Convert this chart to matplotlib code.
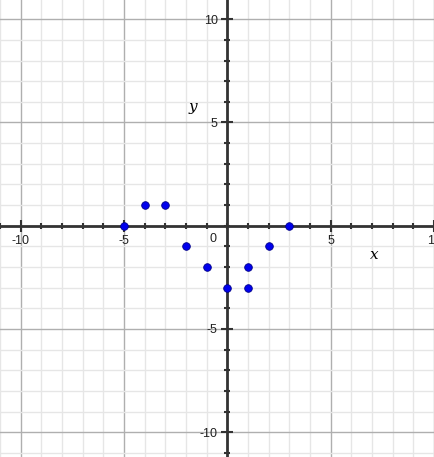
import matplotlib.pyplot as plt
from matplotlib.ticker import MultipleLocator

# points
xs = [-5, -4, -3, -2, -1, 0, 1, 1, 2, 3]
ys = [0, 1, 1, -1, -2, -3, -2, -3, -1, 0]

major_ticks = [-10, -5, 5, 10]

plt.rcParams['font.family'] = ['Liberation Sans', 'DejaVu Sans']
plt.rcParams['axes.unicode_minus'] = False

fig = plt.figure(figsize=(4.35, 4.57), dpi=100)
ax = fig.add_axes([0, 0, 1, 1])

ax.set_xlim(-11.0, 10.05)
ax.set_ylim(-11.2, 10.93)

# grid: light lines every unit, darker every 5
ax.xaxis.set_minor_locator(MultipleLocator(1))
ax.yaxis.set_minor_locator(MultipleLocator(1))
ax.set_xticks(major_ticks)
ax.set_yticks(major_ticks)
ax.grid(which='minor', color='#e6e6e6', lw=1, zorder=0)
ax.grid(which='major', color='#afafaf', lw=1, zorder=0)
ax.set_axisbelow(True)

# axes through origin
for side in ['top', 'right']:
    ax.spines[side].set_visible(False)
ax.spines['left'].set_position('zero')
ax.spines['bottom'].set_position('zero')
for side in ['left', 'bottom']:
    ax.spines[side].set_color('#333333')
    ax.spines[side].set_linewidth(2)
    ax.spines[side].set_zorder(2)

ax.tick_params(which='both', direction='inout', color='#333333', width=1.5,
               labelsize=9, labelcolor='#222222')
ax.tick_params(which='major', length=8, pad=3)
ax.tick_params(which='minor', length=5)

ax.text(-0.7, -0.64, '0', fontsize=9, color='#222222', ha='center', va='center')
ax.text(7.1, -1.41, 'x', fontsize=11, style='italic', family='DejaVu Serif',
        ha='center', va='center')
ax.text(-1.65, 5.77, 'y', fontsize=11, style='italic', family='DejaVu Serif',
        ha='center', va='center')

ax.scatter(xs, ys, s=30, color='#0000ee', edgecolor='#000088', lw=0.6, zorder=5,
           clip_on=False)

fig.savefig('out.png', dpi=100)
